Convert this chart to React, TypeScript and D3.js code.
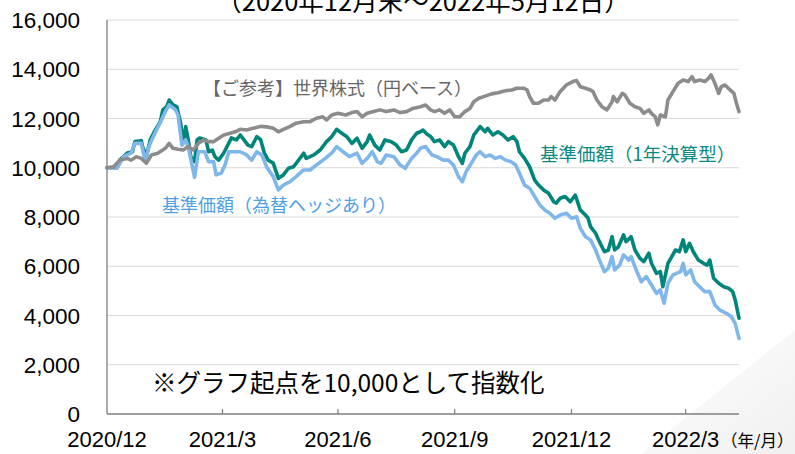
import React, { useEffect, useRef } from "react";
import * as d3 from "d3";

const startDate = new Date(2020, 11, 30);
const endDate = new Date(2022, 4, 12);

// [days from 2020/12/30, index value (start = 10,000)]
const oneYearFund: [number, number][] = [
  [0, 10000], [8, 10040], [10, 10310], [16, 10600], [20, 10650], [22, 11060], [27, 11100], [28, 10860],
  [31, 10450], [34, 11130], [38, 11530], [42, 11870], [44, 12350], [47, 12480], [49, 12750], [52, 12550],
  [55, 12480], [58, 11820], [60, 11000], [62, 11670], [64, 11130], [66, 10450], [69, 10250], [71, 11130],
  [73, 11210], [78, 11130], [80, 10650], [83, 10720], [85, 10450], [88, 10310], [92, 10600], [94, 10800],
  [98, 11210], [102, 11130], [105, 11330], [108, 11130], [111, 10920], [114, 10860], [118, 11260], [121, 11150],
  [124, 10600], [127, 10310], [131, 10190], [135, 9570], [139, 9710], [143, 9980], [147, 10040], [151, 10310],
  [155, 10590], [157, 10380], [163, 10520], [168, 10720], [173, 11060], [177, 11260], [181, 11560], [185, 11400],
  [189, 11260], [193, 10990], [197, 11200], [201, 10790], [205, 11060], [207, 11330], [211, 10920], [215, 10720],
  [219, 11130], [224, 11060], [228, 10920], [232, 10650], [236, 10720], [240, 11130], [244, 11400], [247, 11460],
  [249, 11530], [252, 11370], [255, 11270], [258, 11060], [262, 11130], [266, 10860], [269, 11060], [273, 10920],
  [277, 10450], [280, 10180], [282, 10590], [286, 10860], [289, 11330], [291, 11460], [294, 11670], [298, 11460],
  [300, 11600], [304, 11330], [308, 11460], [312, 11330], [316, 11130], [320, 11260], [323, 11060], [325, 10650],
  [329, 10380], [333, 10040], [337, 9500], [340, 9300], [344, 9100], [348, 8960], [352, 8620], [354, 8560],
  [357, 8760], [361, 8830], [365, 8620], [369, 8890], [373, 8280], [377, 8080], [379, 7960], [381, 7610],
  [385, 7340], [388, 7000], [392, 6590], [395, 6660], [398, 7200], [400, 6660], [403, 6790], [407, 7270],
  [409, 7000], [413, 7200], [416, 6660], [420, 6320], [423, 6190], [427, 6530], [429, 6120], [433, 5710],
  [436, 5780], [438, 5170], [442, 6120], [445, 6390], [448, 6660], [451, 6590], [454, 7070], [456, 6590],
  [459, 6930], [462, 6590], [466, 6250], [470, 6120], [473, 6050], [475, 6250], [478, 5510], [482, 5310],
  [486, 5170], [490, 5100], [493, 4970], [495, 4630], [498, 3890],
];

const hedgedFund: [number, number][] = [
  [0, 10000], [8, 9980], [13, 10450], [19, 10590], [22, 10990], [27, 10990], [30, 10310], [34, 10990],
  [39, 11530], [43, 11940], [46, 12280], [49, 12550], [54, 12350], [56, 12140], [59, 10920], [62, 11130],
  [64, 10860], [67, 10110], [69, 9610], [72, 10650], [77, 10650], [80, 10250], [84, 10250], [86, 9710],
  [90, 9780], [93, 10110], [96, 10650], [100, 10650], [105, 10650], [110, 10520], [114, 10310], [118, 10650],
  [122, 10520], [126, 10010], [131, 9640], [135, 9100], [139, 9300], [144, 9430], [149, 9640], [155, 9910],
  [160, 9910], [165, 10110], [172, 10380], [177, 10590], [181, 10860], [186, 10650], [191, 10450], [197, 10590],
  [201, 10180], [205, 10380], [209, 10650], [213, 10250], [216, 10180], [220, 10520], [226, 10450], [231, 10110],
  [235, 9980], [240, 10380], [245, 10650], [247, 10790], [251, 10860], [256, 10520], [260, 10450], [265, 10310],
  [269, 10310], [273, 10110], [277, 9640], [280, 9430], [283, 9840], [287, 10180], [291, 10520], [294, 10650],
  [298, 10450], [302, 10520], [306, 10380], [310, 10450], [314, 10310], [318, 10250], [322, 10110], [325, 9780],
  [329, 9300], [333, 9170], [337, 8830], [341, 8490], [345, 8280], [349, 8150], [353, 7950], [357, 8080],
  [362, 8150], [366, 7950], [370, 8010], [373, 7540], [377, 7200], [381, 7070], [385, 6660], [388, 6250],
  [392, 5780], [395, 5920], [398, 6390], [400, 5850], [404, 6050], [407, 6460], [411, 6250], [413, 6390],
  [417, 5850], [421, 5370], [425, 5580], [429, 5240], [433, 4900], [436, 5040], [439, 4500], [442, 5310],
  [446, 5650], [452, 5780], [454, 6120], [456, 5650], [460, 5850], [463, 5370], [467, 5170], [471, 4970],
  [475, 4970], [479, 4430], [483, 4220], [488, 4090], [492, 3950], [495, 3680], [498, 3070],
];

const worldEquity: [number, number][] = [
  [0, 10000], [5, 10020], [10, 10310], [16, 10380], [19, 10310], [23, 10450], [27, 10380], [31, 10180],
  [35, 10520], [40, 10590], [46, 10790], [49, 10990], [52, 10790], [56, 10750], [60, 10720], [64, 10860],
  [68, 10720], [72, 10990], [76, 11130], [80, 11060], [84, 11060], [88, 11200], [92, 11330], [97, 11400],
  [101, 11460], [105, 11560], [110, 11530], [115, 11600], [121, 11680], [126, 11660], [131, 11600], [135, 11460],
  [139, 11560], [144, 11670], [149, 11810], [155, 11870], [160, 11870], [165, 12010], [170, 12070], [173, 11940],
  [177, 12140], [182, 12210], [188, 12140], [193, 12240], [197, 12280], [201, 12070], [205, 12210], [210, 12280],
  [215, 12350], [220, 12280], [226, 12350], [231, 12240], [236, 12280], [241, 12410], [247, 12480], [251, 12550],
  [255, 12350], [258, 12280], [262, 12350], [266, 12210], [270, 12350], [274, 12070], [278, 12070], [282, 12280],
  [286, 12410], [289, 12680], [293, 12820], [298, 12910], [303, 13000], [308, 13050], [314, 13130], [319, 13160],
  [323, 13230], [328, 13230], [331, 13160], [333, 12890], [336, 12620], [340, 12620], [344, 12750], [348, 12750],
  [350, 12890], [353, 12750], [357, 13090], [362, 13360], [367, 13500], [370, 13540], [373, 13290], [377, 13230],
  [381, 13160], [383, 13090], [386, 12750], [390, 12480], [394, 12350], [398, 12680], [399, 12890], [402, 12680],
  [406, 13020], [408, 12960], [412, 12620], [416, 12480], [420, 12410], [423, 12210], [427, 12350], [429, 12210],
  [432, 12070], [434, 11740], [436, 12140], [440, 12070], [442, 12750], [446, 13090], [450, 13430], [454, 13560],
  [458, 13500], [461, 13700], [463, 13500], [467, 13560], [471, 13500], [474, 13630], [476, 13770], [479, 13430],
  [482, 13020], [484, 13290], [487, 13360], [491, 13160], [494, 13020], [496, 12620], [498, 12280],
];

const xTickDates = [
  new Date(2020, 11, 30), new Date(2021, 2, 31), new Date(2021, 5, 30),
  new Date(2021, 8, 30), new Date(2021, 11, 31), new Date(2022, 2, 31),
];
const xTickLabels = ["2020/12", "2021/3", "2021/6", "2021/9", "2021/12", "2022/3"];
const yTicks = [0, 2000, 4000, 6000, 8000, 10000, 12000, 14000, 16000];

const JP = "'Noto Sans CJK JP', 'Noto Sans', sans-serif";
const LAT = "'Liberation Sans', Arial, sans-serif";

function drawChart(el: SVGSVGElement) {
  const svg = d3.select(el);
  svg.selectAll("*").remove();

  const left = 107, right = 739, top = 20, bottom = 414;
  const x = d3.scaleTime().domain([startDate, endDate]).range([left, right]);
  const y = d3.scaleLinear().domain([0, 16000]).range([bottom, top]);

  // faint corner shading
  const defs = svg.append("defs");
  const grad = defs.append("linearGradient").attr("id", "corner")
    .attr("x1", "0").attr("y1", "0").attr("x2", "1").attr("y2", "1");
  grad.append("stop").attr("offset", "0%").attr("stop-color", "#ffffff");
  grad.append("stop").attr("offset", "100%").attr("stop-color", "#f0f0f0");
  svg.append("polygon").attr("points", "640,454 795,330 795,454").attr("fill", "url(#corner)");

  // grid
  svg.append("g").selectAll("line").data(yTicks.filter((d) => d > 0)).join("line")
    .attr("x1", left).attr("x2", right)
    .attr("y1", (d) => y(d)).attr("y2", (d) => y(d))
    .attr("stroke", "#d9d9d9").attr("stroke-width", 1);

  // axes
  svg.append("line").attr("x1", left).attr("x2", left).attr("y1", top).attr("y2", bottom)
    .attr("stroke", "#7f7f7f").attr("stroke-width", 1.3);
  svg.append("line").attr("x1", left).attr("x2", right).attr("y1", bottom).attr("y2", bottom)
    .attr("stroke", "#7f7f7f").attr("stroke-width", 1.3);
  svg.append("g").selectAll("line").data(xTickDates.slice(1)).join("line")
    .attr("x1", (d) => x(d)).attr("x2", (d) => x(d))
    .attr("y1", bottom).attr("y2", bottom - 5)
    .attr("stroke", "#7f7f7f").attr("stroke-width", 1.2);

  svg.append("g").selectAll("text").data(yTicks).join("text")
    .attr("x", 80).attr("y", (d) => y(d)).attr("dy", "0.36em")
    .attr("text-anchor", "end")
    .style("font-family", LAT).style("font-size", "22.5px").style("fill", "#000")
    .text((d) => d3.format(",")(d));

  svg.append("g").selectAll("text").data(xTickDates).join("text")
    .attr("x", (d) => x(d)).attr("y", 447)
    .attr("text-anchor", "middle")
    .style("font-family", LAT).style("font-size", "22px").style("fill", "#000")
    .text((d, i) => xTickLabels[i]);
  svg.append("text").attr("x", 721).attr("y", 447)
    .style("font-family", JP).style("font-size", "16.5px").style("fill", "#000")
    .text("（年/月）");

  // series
  const line = d3.line<[number, number]>()
    .x((d) => x(d3.timeDay.offset(startDate, d[0])))
    .y((d) => y(d[1]));
  const series: [[number, number][], string][] = [
    [oneYearFund, "#00857a"],
    [hedgedFund, "#7fb7ea"],
    [worldEquity, "#8c8c8c"],
  ];
  series.forEach(([data, color]) => {
    svg.append("path").datum(data).attr("d", line)
      .attr("fill", "none").attr("stroke", color).attr("stroke-width", 3.6)
      .attr("stroke-linejoin", "round").attr("stroke-linecap", "round");
  });

  // labels
  svg.append("text").attr("x", 423).attr("y", 11).attr("text-anchor", "middle")
    .style("font-family", JP).style("font-size", "25.5px").style("fill", "#000")
    .text("（2020年12月末～2022年5月12日）");
  svg.append("text").attr("x", 203).attr("y", 95)
    .style("font-family", JP).style("font-size", "18px").style("fill", "#666666")
    .text("【ご参考】世界株式（円ベース）");
  svg.append("text").attr("x", 540).attr("y", 161)
    .style("font-family", JP).style("font-size", "18.5px").style("fill", "#0a8a80")
    .text("基準価額（1年決算型）");
  svg.append("text").attr("x", 162).attr("y", 212)
    .style("font-family", JP).style("font-size", "18px").style("fill", "#4f9fe6")
    .text("基準価額（為替ヘッジあり）");
  svg.append("text").attr("x", 152).attr("y", 392)
    .style("font-family", JP).style("font-size", "24.5px").style("fill", "#000")
    .text("※グラフ起点を10,000として指数化");
}

export default function App() {
  const ref = useRef<SVGSVGElement>(null);
  useEffect(() => {
    if (ref.current) drawChart(ref.current);
  }, []);
  return (
    <svg
      ref={ref}
      width={795}
      height={454}
      style={{ position: "absolute", left: 0, top: 0, background: "#fff" }}
    />
  );
}
